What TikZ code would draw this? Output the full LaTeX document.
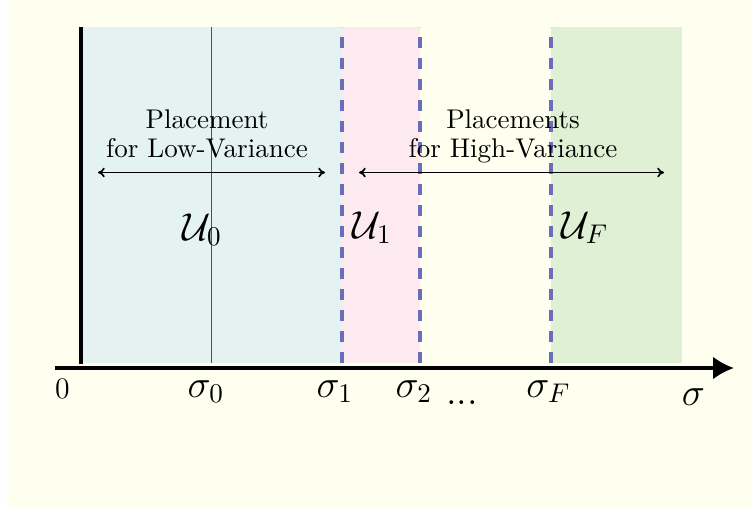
\documentclass[tikz,border=0pt]{standalone}
\usetikzlibrary{arrows.meta}
\definecolor{bgivory}{RGB}{255,255,240}
\definecolor{regblue}{RGB}{228,243,242}
\definecolor{regpink}{RGB}{253,233,240}
\definecolor{reggreen}{RGB}{224,240,213}
\definecolor{dashcol}{RGB}{106,110,184}
\definecolor{thincol}{RGB}{50,80,170}
\begin{document}
\begin{tikzpicture}[x=0.37pt,y=-0.37pt,
  bound/.style={dashcol,line width=4*0.37pt,dash pattern=on 11*0.37pt off 10*0.37pt},
  axislabel/.style={anchor=base,inner sep=0pt,font=\fontsize{14.4}{16}\selectfont},
  ulabel/.style={anchor=base,inner sep=0pt,font=\fontsize{14.4}{16}\selectfont},
  caption/.style={align=center,inner sep=0pt,font=\fontsize{10}{10.7}\selectfont},
  span/.style={{To[length=2.5pt,width=3.6pt]}-{To[length=2.5pt,width=3.6pt]},line width=1.7*0.37pt}]
\useasboundingbox (0,0) rectangle (751,507);
\fill[white] (0,0) rectangle (751,507);
\fill[bgivory] (7,0) rectangle (751,507);
% regions
\fill[regblue] (82,27) rectangle (342,363);
\fill[regpink] (342,27) rectangle (420,363);
\fill[reggreen] (551,27) rectangle (682,363);
% thin line at sigma_0
\coordinate (t0b) at (211.5,363);
\coordinate (t0t) at (211.5,27);
\draw[thincol,line width=1.5*0.37pt] (t0b) -- (t0t);
% dashed boundaries (drawn bottom to top)
\coordinate (d1b) at (342,363); \coordinate (d1t) at (342,27);
\coordinate (d2b) at (420,363); \coordinate (d2t) at (420,27);
\coordinate (d3b) at (551,363); \coordinate (d3t) at (551,27);
\draw[bound] (d1b) -- (d1t);
\draw[bound] (d2b) -- (d2t);
\draw[bound] (d3b) -- (d3t);
% axes
\coordinate (yb) at (81,364); \coordinate (yt) at (81,27);
\draw[line width=3.5*0.37pt] (yb) -- (yt);
\coordinate (xs) at (55,368); \coordinate (xe) at (734,368);
\draw[line width=3.5*0.37pt,-{Latex[length=21*0.37pt,width=23*0.37pt]}] (xs) -- (xe);
% axis labels
\node[anchor=base,inner sep=0pt,font=\fontsize{11}{13}\selectfont] (l0) at (62.5,398) {0};
\node[axislabel] (s0) at (206,397) {$\sigma_0$};
\node[axislabel] (s1) at (335,397) {$\sigma_1$};
\node[axislabel] (s2) at (414,397) {$\sigma_2$};
\node[anchor=base,inner sep=0pt,font=\fontsize{14.4}{16}\selectfont] (dots) at (462,404) {...};
\node[axislabel] (sF) at (548.5,397) {$\sigma_F$};
\node[axislabel] (sg) at (693.5,405) {$\sigma$};
% region labels
\node[ulabel] (u0) at (202.5,240) {$\mathcal{U}_0$};
\node[ulabel] (u1) at (372.5,238) {$\mathcal{U}_1$};
\node[ulabel] (uF) at (585,238) {$\mathcal{U}_F$};
% captions
\node[caption,anchor=base] (lowtxt) at (207,157.5) {Placement\\for Low-Variance};
\node[caption,anchor=base] (hightxt) at (513,157.5) {Placements\\for High-Variance};
% spans
\coordinate (la) at (98,172.5); \coordinate (lb) at (325,172.5);
\coordinate (ha) at (359,172.5); \coordinate (hb) at (664,172.5);
\draw[span] (la) -- (lb);
\draw[span] (ha) -- (hb);
\end{tikzpicture}
\end{document}
